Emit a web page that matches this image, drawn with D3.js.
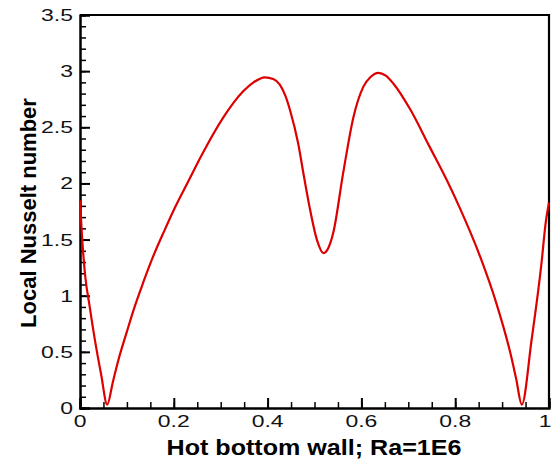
<!DOCTYPE html>
<html>
<head>
<meta charset="utf-8">
<script src="https://cdn.jsdelivr.net/npm/d3@7"></script>
<style>
  body { margin: 0; background: #fff; }
  text { font-family: "Liberation Sans", Arial, sans-serif; }
</style>
</head>
<body>
<div id="chart"></div>
<script>
// position along hot bottom wall
var xPos = [0, 0.004, 0.011, 0.02, 0.032, 0.045, 0.058, 0.07, 0.082, 0.1, 0.114, 0.135,
  0.156, 0.18, 0.203, 0.231, 0.263, 0.306, 0.348, 0.37, 0.394, 0.412, 0.426, 0.438,
  0.448, 0.465, 0.478, 0.489, 0.505, 0.519, 0.53, 0.54, 0.561, 0.583, 0.604, 0.62,
  0.636, 0.652, 0.668, 0.704, 0.745, 0.782, 0.81, 0.853, 0.888, 0.917, 0.93, 0.942,
  0.963, 0.984, 0.993, 1.0];
// local Nusselt number
var nusselt = [1.85, 1.55, 1.18, 0.92, 0.6, 0.3, 0.03, 0.23, 0.43, 0.68, 0.87, 1.12,
  1.35, 1.58, 1.79, 2.02, 2.28, 2.59, 2.82, 2.9, 2.945, 2.93, 2.88, 2.78,
  2.65, 2.36, 2.05, 1.8, 1.5, 1.38, 1.43, 1.56, 2.09, 2.59, 2.86, 2.95,
  2.985, 2.96, 2.89, 2.66, 2.33, 2.03, 1.78, 1.35, 0.93, 0.5, 0.26, 0.03,
  0.61, 1.29, 1.65, 1.83];

var xTicks = [0, 0.2, 0.4, 0.6, 0.8, 1];
var yTicks = [0, 0.5, 1, 1.5, 2, 2.5, 3, 3.5];
var xTitle = "Hot bottom wall; Ra=1E6";
var yTitle = "Local Nusselt number";

var width = 551, height = 461;
var margin = {top: 15, right: 2, bottom: 53, left: 80};

var svg = d3.select("#chart").append("svg")
  .attr("width", width)
  .attr("height", height);

var x = d3.scaleLinear().domain([0, 1]).range([margin.left, width - margin.right]);
var y = d3.scaleLinear().domain([0, 3.5]).range([height - margin.bottom, margin.top]);

var pts = xPos.map(function(d, i) { return [d, nusselt[i]]; });

// frame (top and right)
svg.append("path")
  .attr("d", "M" + x(0) + "," + y(3.5) + "H" + x(1) + "V" + y(0))
  .attr("fill", "none")
  .attr("stroke", "#000")
  .attr("stroke-width", 2.2);

// bottom axis, ticks pointing in
var xMinor = d3.range(0, 1.0001, 0.05);
svg.append("g")
  .attr("transform", "translate(0," + y(0) + ")")
  .call(d3.axisBottom(x).tickValues(xMinor).tickSize(-6).tickFormat(""))
  .call(function(g) {
    g.select(".domain").attr("stroke-width", 2);
    g.selectAll(".tick line").attr("stroke-width", 1.5);
  });
svg.append("g")
  .attr("transform", "translate(0," + y(0) + ")")
  .call(d3.axisBottom(x).tickValues(xTicks).tickSize(-10).tickFormat(""))
  .call(function(g) {
    g.select(".domain").attr("stroke-width", 2);
    g.selectAll(".tick line").attr("stroke-width", 2);
  });

// left axis
var yMinor = d3.range(0, 3.5001, 0.1);
svg.append("g")
  .attr("transform", "translate(" + x(0) + ",0)")
  .call(d3.axisLeft(y).tickValues(yMinor).tickSize(-6).tickFormat(""))
  .call(function(g) {
    g.select(".domain").attr("stroke-width", 2);
    g.selectAll(".tick line").attr("stroke-width", 1.5);
  });
svg.append("g")
  .attr("transform", "translate(" + x(0) + ",0)")
  .call(d3.axisLeft(y).tickValues(yTicks).tickSize(-10).tickFormat(""))
  .call(function(g) {
    g.select(".domain").attr("stroke-width", 2);
    g.selectAll(".tick line").attr("stroke-width", 2);
  });

// tick labels (stretched like the original font); last one kept inside the edge
svg.selectAll(".xlab")
  .data(xTicks)
  .enter().append("text")
  .attr("class", "xlab")
  .attr("transform", function(d) { return "translate(" + Math.min(x(d), width - 6) + "," + (y(0) + 19) + ") scale(1.35,1)"; })
  .attr("text-anchor", "middle")
  .attr("font-size", 17)
  .attr("fill", "#111")
  .text(function(d) { return d; });

svg.selectAll(".ylab")
  .data(yTicks)
  .enter().append("text")
  .attr("class", "ylab")
  .attr("transform", function(d) { return "translate(" + (x(0) - 7) + "," + (y(d) + 6) + ") scale(1.35,1)"; })
  .attr("text-anchor", "end")
  .attr("font-size", 17)
  .attr("fill", "#111")
  .text(function(d) { return d; });

// axis titles
svg.append("text")
  .attr("x", 314)
  .attr("y", 455)
  .attr("text-anchor", "middle")
  .attr("font-size", 22)
  .attr("font-weight", "bold")
  .attr("textLength", 295)
  .attr("lengthAdjust", "spacingAndGlyphs")
  .text(xTitle);

svg.append("text")
  .attr("transform", "translate(36,213) rotate(-90)")
  .attr("text-anchor", "middle")
  .attr("font-size", 22)
  .attr("font-weight", "bold")
  .text(yTitle);

// curve
var line = d3.line()
  .x(function(d) { return x(d[0]); })
  .y(function(d) { return y(d[1]); })
  .curve(d3.curveMonotoneX);

svg.append("path")
  .datum(pts)
  .attr("d", line)
  .attr("fill", "none")
  .attr("stroke", "#dd0000")
  .attr("stroke-width", 2.2);
</script>
</body>
</html>
